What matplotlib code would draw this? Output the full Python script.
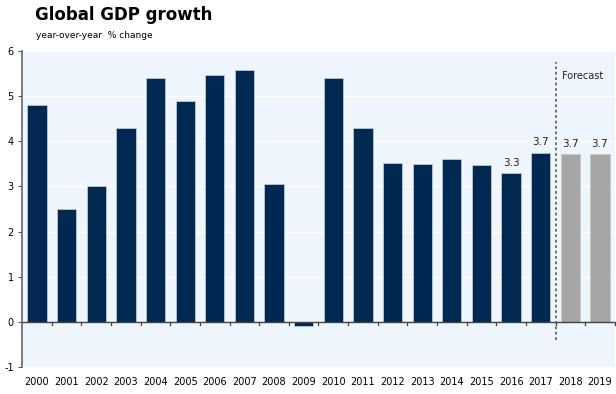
import matplotlib.pyplot as plt
import numpy as np

plt.rcParams["axes.unicode_minus"] = False

years = ["2000", "2001", "2002", "2003", "2004", "2005", "2006", "2007", "2008", "2009",
         "2010", "2011", "2012", "2013", "2014", "2015", "2016", "2017", "2018", "2019"]
growth = [4.8, 2.5, 3.0, 4.3, 5.4, 4.9, 5.47, 5.58, 3.05, -0.1,
          5.4, 4.3, 3.52, 3.5, 3.6, 3.47, 3.29, 3.75, 3.71, 3.71]
forecast = [False] * 18 + [True, True]
labelled = ["2016", "2017", "2018", "2019"]
label_text = ["3.3", "3.7", "3.7", "3.7"]

navy = "#002850"
grey = "#a6a6a6"

fig = plt.figure(figsize=(6.16, 3.94), dpi=100)
ax = fig.add_axes([0.036, 0.0685, 0.962, 0.802])
ax.set_facecolor("#eef5fd")

x = np.arange(len(years))
colors = [grey if f else navy for f in forecast]
edges = ["#c8c8c8" if f else "#b8c8d8" for f in forecast]
ax.bar(x, growth, width=0.65, color=colors, edgecolor=edges, linewidth=0.6, zorder=3)

ax.set_xlim(-0.5, len(years) - 0.5)
ax.set_ylim(-1, 6)
ax.set_yticks(range(-1, 7))
ax.tick_params(axis="y", length=3, width=0.8, color="#555555", labelsize=7, pad=3)
for yv in range(1, 7):
    ax.axhline(yv, color="white", linewidth=1, zorder=1)

# x axis at zero with ticks between categories
ax.axhline(0, color="#444444", linewidth=1, zorder=4)
ax.set_xticks(x)
ax.set_xticklabels(years, fontsize=7)
ax.tick_params(axis="x", length=0, pad=7)
for b in np.arange(0.5, len(years), 1.0):
    ax.plot([b, b], [0, -0.07], color="#444444", linewidth=0.9, zorder=4, clip_on=False)

for s in ["top", "right", "bottom"]:
    ax.spines[s].set_visible(False)
ax.spines["left"].set_color("#666666")
ax.spines["left"].set_linewidth(1.2)

# forecast divider
ax.plot([17.5, 17.5], [-0.4, 5.75], color="#666666", linestyle=(0, (1.5, 1.5)),
        linewidth=1.3, zorder=4)
ax.text(17.72, 5.44, "Forecast", fontsize=7, color="#222222", ha="left", va="center")

for yr, txt in zip(labelled, label_text):
    i = years.index(yr)
    ax.annotate(txt, (i, growth[i]), xytext=(0, 4), textcoords="offset points",
                ha="center", va="bottom", fontsize=7.5, color="#222222")

fig.text(0.057, 0.962, "Global GDP growth", fontsize=12, fontweight="bold",
         ha="left", va="center")
fig.text(0.058, 0.91, "year-over-year  % change", fontsize=6.5, ha="left", va="center")

plt.savefig("out.png", dpi=100)
